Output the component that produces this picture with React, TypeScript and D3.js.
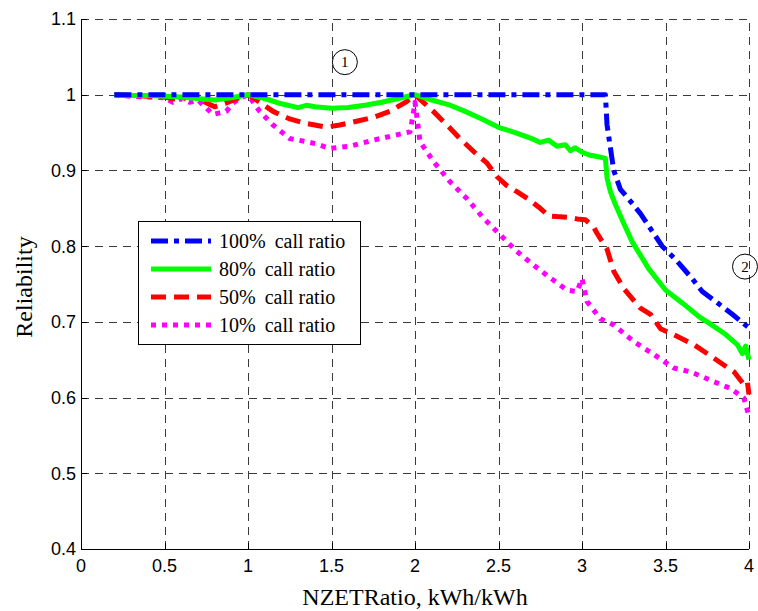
import React, { useEffect, useRef } from "react";
import * as d3 from "d3";

// ratio (x) and reliability (y)
const blueX = [0.2, 0.5, 1.0, 1.5, 2.0, 2.5, 3.0, 3.14, 3.15, 3.17, 3.19, 3.23, 3.28, 3.35, 3.48, 3.57, 3.66, 3.72, 3.8, 3.9, 4.0];
const blueY = [1, 1, 1, 1, 1, 1, 1, 1, 0.96, 0.93, 0.9, 0.875, 0.862, 0.843, 0.8, 0.78, 0.757, 0.74, 0.727, 0.71, 0.692];

const greenX = [0.2, 0.3, 0.4, 0.5, 0.6, 0.7, 0.8, 0.9, 1.0, 1.1, 1.2, 1.3, 1.35, 1.4, 1.5, 1.6, 1.7, 1.8, 1.9, 2.0, 2.1, 2.2, 2.3, 2.4, 2.5, 2.6, 2.7, 2.75, 2.8, 2.85, 2.9, 2.93, 2.96, 3.0, 3.05, 3.1, 3.14, 3.15, 3.17, 3.2, 3.25, 3.3, 3.4, 3.5, 3.6, 3.7, 3.77, 3.85, 3.93, 3.96, 3.98, 4.0];
const greenY = [1, 0.999, 0.999, 0.998, 0.997, 0.995, 0.993, 0.996, 1.0, 0.995, 0.988, 0.983, 0.986, 0.984, 0.982, 0.983, 0.986, 0.99, 0.995, 1.0, 0.993, 0.987, 0.978, 0.968, 0.957, 0.95, 0.942, 0.937, 0.94, 0.932, 0.934, 0.926, 0.93, 0.924, 0.92, 0.918, 0.916, 0.89, 0.872, 0.855, 0.83, 0.806, 0.77, 0.742, 0.725, 0.707, 0.697, 0.685, 0.67, 0.658, 0.668, 0.65];

const redX = [0.2, 0.3, 0.4, 0.5, 0.6, 0.65, 0.7, 0.8, 0.87, 0.95, 1.0, 1.07, 1.15, 1.25, 1.35, 1.45, 1.49, 1.55, 1.65, 1.75, 1.85, 1.95, 2.0, 2.05, 2.11, 2.2, 2.27, 2.37, 2.43, 2.49, 2.55, 2.61, 2.68, 2.75, 2.8, 2.85, 2.92, 2.97, 3.02, 3.07, 3.09, 3.15, 3.19, 3.25, 3.35, 3.41, 3.47, 3.55, 3.67, 3.79, 3.91, 3.97, 3.99, 4.0];
const redY = [1, 0.999, 0.998, 0.997, 0.993, 0.999, 0.995, 0.984, 0.989, 0.996, 1.0, 0.99, 0.978, 0.968, 0.962, 0.958, 0.958, 0.96, 0.965, 0.97, 0.978, 0.991, 1.0, 0.99, 0.978, 0.958, 0.942, 0.921, 0.91, 0.892, 0.88, 0.872, 0.862, 0.85, 0.84, 0.839, 0.838, 0.836, 0.835, 0.825, 0.817, 0.796, 0.767, 0.744, 0.718, 0.71, 0.691, 0.683, 0.67, 0.652, 0.634, 0.617, 0.621, 0.604];

const magentaX = [0.2, 0.3, 0.4, 0.5, 0.55, 0.6, 0.65, 0.7, 0.79, 0.87, 0.91, 0.95, 1.0, 1.07, 1.15, 1.25, 1.35, 1.41, 1.49, 1.61, 1.75, 1.89, 1.97, 1.99, 2.0, 2.03, 2.11, 2.21, 2.31, 2.41, 2.51, 2.61, 2.71, 2.81, 2.91, 2.97, 3.0, 3.03, 3.11, 3.19, 3.31, 3.43, 3.55, 3.65, 3.79, 3.89, 3.97, 4.0];
const magentaY = [1, 0.998, 0.997, 0.996, 0.99, 0.995, 0.99, 0.993, 0.974, 0.978, 0.989, 0.995, 1.0, 0.978, 0.96, 0.942, 0.938, 0.935, 0.929, 0.932, 0.94, 0.947, 0.951, 0.975, 0.99, 0.938, 0.912, 0.885, 0.863, 0.837, 0.815, 0.793, 0.775, 0.758, 0.742, 0.74, 0.757, 0.727, 0.704, 0.696, 0.674, 0.657, 0.639, 0.634, 0.621, 0.612, 0.599, 0.575];

const seriesNames = ["100% call ratio", "80% call ratio", "50% call ratio", "10% call ratio"];
const seriesColors = ["#0000ff", "#00ff00", "#ff0000", "#ff00ff"];
const seriesDash = ["17,6,5,6", "", "15,8", "5,6"];

const xTicks = [0, 0.5, 1, 1.5, 2, 2.5, 3, 3.5, 4];
const yTicks = [0.4, 0.5, 0.6, 0.7, 0.8, 0.9, 1, 1.1];
const notes = [
  { label: "1", x: 1.58, y: 1.043 },
  { label: "2", x: 3.976, y: 0.773 },
];

export default function App() {
  const ref = useRef<SVGSVGElement>(null);

  useEffect(() => {
    const svg = d3.select(ref.current);
    svg.selectAll("*").remove();

    const x = d3.scaleLinear().domain([0, 4]).range([81, 749]);
    const y = d3.scaleLinear().domain([0.4, 1.1]).range([549, 19]);

    const tickFont = "'Liberation Sans', Arial, sans-serif";
    const serif = "'Liberation Serif', 'Times New Roman', serif";

    svg.append("rect").attr("width", 758).attr("height", 611).attr("fill", "#fff");

    // grid
    const grid = svg.append("g").attr("stroke", "#3a3a3a").attr("stroke-width", 1).attr("stroke-dasharray", "8,6");
    grid.selectAll("line.v")
      .data(xTicks.slice(1))
      .join("line")
      .attr("x1", d => Math.round(x(d)) + 0.5).attr("x2", d => Math.round(x(d)) + 0.5)
      .attr("y1", y(0.4)).attr("y2", y(1.1));
    grid.selectAll("line.h")
      .data(yTicks.slice(1))
      .join("line")
      .attr("class", "h")
      .attr("y1", d => Math.round(y(d)) + 0.5).attr("y2", d => Math.round(y(d)) + 0.5)
      .attr("x1", x(0)).attr("x2", x(4));

    // axes
    const ax = svg.append("g").attr("stroke", "#000").attr("stroke-width", 1);
    ax.append("line").attr("x1", x(0) + 0.5).attr("x2", x(0) + 0.5).attr("y1", y(1.1)).attr("y2", y(0.4));
    ax.append("line").attr("x1", x(0)).attr("x2", x(4)).attr("y1", y(0.4) + 0.5).attr("y2", y(0.4) + 0.5);
    ax.selectAll("line.xt")
      .data(xTicks)
      .join("line")
      .attr("class", "xt")
      .attr("x1", d => Math.round(x(d)) + 0.5).attr("x2", d => Math.round(x(d)) + 0.5)
      .attr("y1", y(0.4)).attr("y2", y(0.4) - 6);
    ax.selectAll("line.yt")
      .data(yTicks)
      .join("line")
      .attr("class", "yt")
      .attr("y1", d => Math.round(y(d)) + 0.5).attr("y2", d => Math.round(y(d)) + 0.5)
      .attr("x1", x(0)).attr("x2", x(0) + 6);

    svg.append("g")
      .selectAll("text")
      .data(xTicks)
      .join("text")
      .attr("x", d => x(d))
      .attr("y", 572)
      .attr("text-anchor", "middle")
      .style("font", `18px ${tickFont}`)
      .text(d => String(d));
    svg.append("g")
      .selectAll("text")
      .data(yTicks)
      .join("text")
      .attr("x", x(0) - 5)
      .attr("y", d => y(d))
      .attr("dy", "0.36em")
      .attr("text-anchor", "end")
      .style("font", `18px ${tickFont}`)
      .text(d => String(d));

    svg.append("text")
      .attr("x", 415).attr("y", 605)
      .attr("text-anchor", "middle")
      .style("font", `24px ${serif}`)
      .text("NZETRatio, kWh/kWh");
    svg.append("text")
      .attr("transform", "translate(32,287) rotate(-90)")
      .attr("text-anchor", "middle")
      .style("font", `24px ${serif}`)
      .text("Reliability");

    // curves
    const xs = [blueX, greenX, redX, magentaX];
    const ys = [blueY, greenY, redY, magentaY];
    const line = d3.line<[number, number]>().x(d => x(d[0])).y(d => y(d[1]));
    [3, 2, 1, 0].forEach(i => {
      const pts = xs[i].map((v, j) => [v, ys[i][j]] as [number, number]);
      svg.append("path")
        .attr("d", line(pts))
        .attr("fill", "none")
        .attr("stroke", seriesColors[i])
        .attr("stroke-width", 5)
        .attr("stroke-linejoin", "round")
        .attr("stroke-dasharray", seriesDash[i] || null);
    });

    // annotations
    const ann = svg.append("g").selectAll("g").data(notes).join("g")
      .attr("transform", d => `translate(${x(d.x)},${y(d.y)})`);
    ann.append("circle").attr("r", 12.5).attr("fill", "none").attr("stroke", "#000").attr("stroke-width", 1);
    ann.append("text")
      .attr("text-anchor", "middle")
      .attr("dy", "0.35em")
      .style("font", `15px ${serif}`)
      .text(d => d.label);

    // legend
    const lg = svg.append("g");
    lg.append("rect")
      .attr("x", 138.5).attr("y", 221.5).attr("width", 222).attr("height", 123)
      .attr("fill", "#fff").attr("stroke", "#000").attr("stroke-width", 1);
    seriesNames.forEach((name, i) => {
      const cy = 241 + i * 28;
      lg.append("line")
        .attr("x1", 151).attr("x2", 211).attr("y1", cy).attr("y2", cy)
        .attr("stroke", seriesColors[i]).attr("stroke-width", 5)
        .attr("stroke-dasharray", seriesDash[i] || null);
      const [pct, rest] = [name.split(" ")[0], name.split(" ").slice(1).join(" ")];
      const t = lg.append("text")
        .attr("x", 219).attr("y", cy).attr("dy", "0.33em")
        .style("font", `20px ${serif}`);
      t.append("tspan").text(pct);
      t.append("tspan").attr("dx", 9).text(rest);
    });
  }, []);

  return (
    <svg
      ref={ref}
      width={758}
      height={611}
      style={{ display: "block", position: "absolute", left: 0, top: 0 }}
    />
  );
}
